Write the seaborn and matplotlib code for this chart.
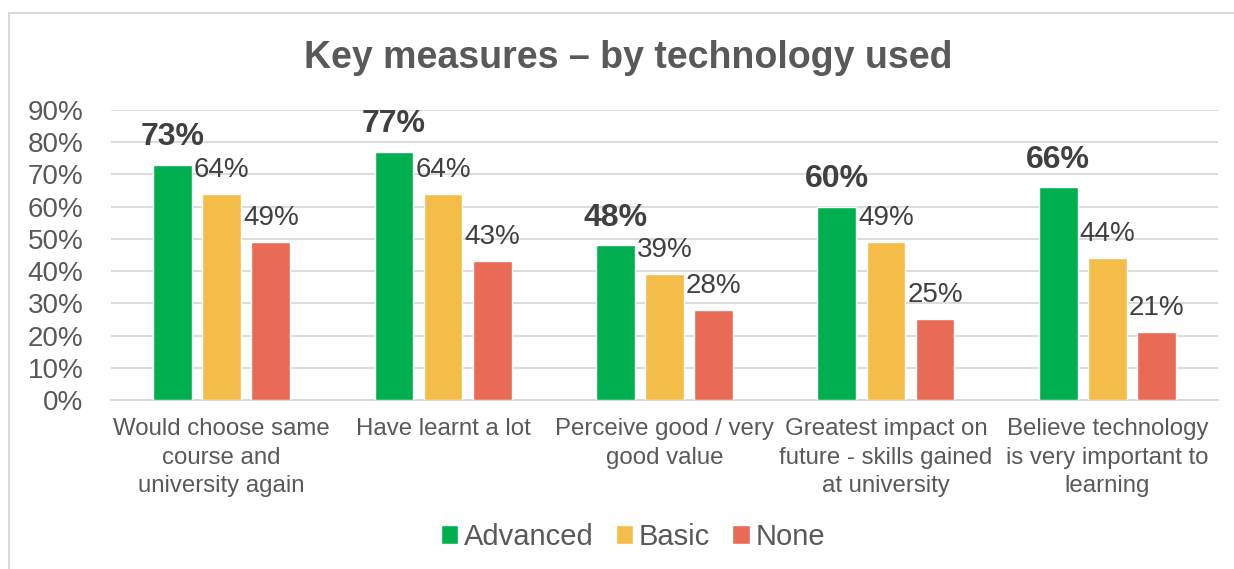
import matplotlib
matplotlib.use("Agg")
import matplotlib.pyplot as plt
from matplotlib.lines import Line2D
from matplotlib.ticker import PercentFormatter
import seaborn as sns
import pandas as pd

categories = [
    "Would choose same\ncourse and\nuniversity again",
    "Have learnt a lot",
    "Perceive good / very\ngood value",
    "Greatest impact on\nfuture - skills gained\nat university",
    "Believe technology\nis very important to\nlearning",
]
series_names = ["Advanced", "Basic", "None"]
advanced = [73, 77, 48, 60, 66]
basic = [64, 64, 39, 49, 44]
none = [49, 43, 28, 25, 21]
y_ticks = [0, 10, 20, 30, 40, 50, 60, 70, 80, 90]

colors = ["#00B050", "#F4BC48", "#E96A55"]
text_gray = "#595959"
label_dark = "#404040"
grid_gray = "#D9D9D9"

rows = []
for name, vals in zip(series_names, [advanced, basic, none]):
    for cat, v in zip(categories, vals):
        rows.append({"category": cat, "series": name, "value": v})
df = pd.DataFrame(rows)

sns.set_theme(style="white")
plt.rcParams["font.family"] = ["Liberation Sans", "DejaVu Sans"]

fig = plt.figure(figsize=(12.34, 5.69), dpi=100)
ax = fig.add_axes([111 / 1234, 1 - 400 / 569, 1107 / 1234, 290 / 569])

sns.barplot(data=df, x="category", y="value", hue="series", hue_order=series_names,
            palette=colors, width=0.665, gap=0.21, saturation=1, ax=ax, legend=True,
            zorder=3)

ax.set_ylim(0, 90)
ax.set_yticks(y_ticks)
ax.yaxis.set_major_formatter(PercentFormatter(decimals=0))
ax.set_xlim(-0.5, len(categories) - 0.5)
ax.grid(axis="y", color=grid_gray, linewidth=1.3, zorder=0)
ax.set_axisbelow(True)
for side in ["left", "right", "top"]:
    ax.spines[side].set_visible(False)
ax.spines["bottom"].set_color(grid_gray)
ax.spines["bottom"].set_linewidth(1.3)
ax.tick_params(axis="y", labelsize=20, labelcolor=text_gray, length=0, pad=20)
ax.tick_params(axis="x", labelsize=17.3, labelcolor=text_gray, length=0, pad=13)
for lbl in ax.get_xticklabels():
    lbl.set_linespacing(1.38)
ax.set_xlabel("")
ax.set_ylabel("")

for i, cont in enumerate(ax.containers):
    if i == 0:
        ax.bar_label(cont, fmt="%d%%", fontsize=23, fontweight="bold",
                     color=label_dark, padding=9)
    else:
        ax.bar_label(cont, fmt="%d%%", fontsize=20, color=label_dark, padding=8)

handles, labels = ax.get_legend_handles_labels()
ax.legend_.remove()
fig.legend(handles, labels, loc="center", bbox_to_anchor=(633 / 1234, 1 - 537 / 569),
           ncol=3, frameon=False, fontsize=21, labelcolor=text_gray,
           handlelength=0.6, handleheight=0.6, handletextpad=0.2, columnspacing=0.75)

fig.text(628 / 1234, 1 - 58 / 569, "Key measures \u2013 by technology used",
         ha="center", va="center", fontsize=27, fontweight="bold", color=text_gray)

# chart frame
fig.add_artist(Line2D([9 / 1234, 1.0], [1 - 13 / 569] * 2, transform=fig.transFigure,
                      color=grid_gray, linewidth=1.5))
fig.add_artist(Line2D([9 / 1234] * 2, [0.0, 1 - 13 / 569], transform=fig.transFigure,
                      color=grid_gray, linewidth=1.5))

fig.savefig("out.png", dpi=100, facecolor="white")
